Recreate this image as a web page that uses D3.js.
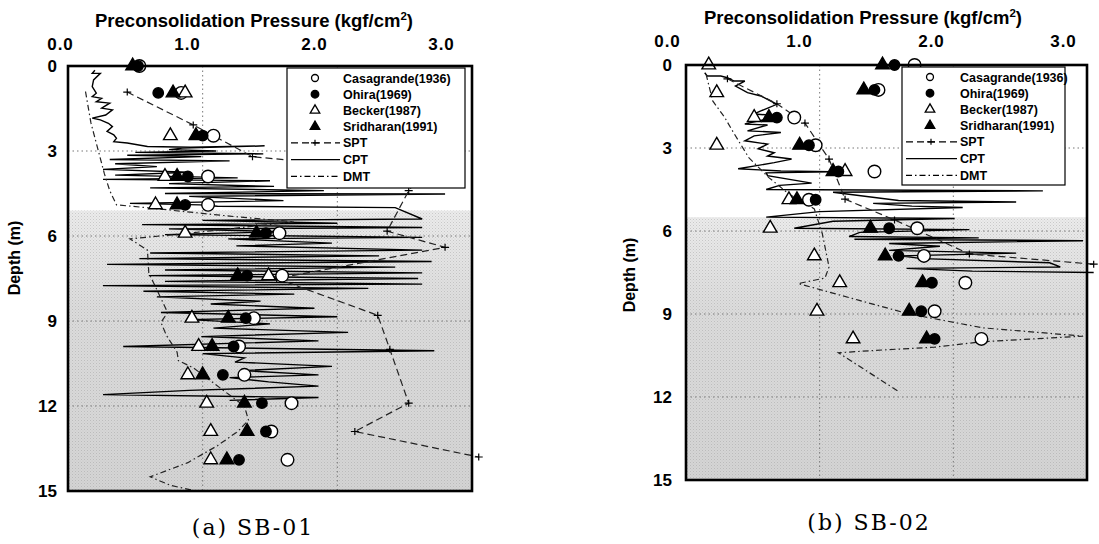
<!DOCTYPE html>
<html>
<head>
<meta charset="utf-8">
<script src="https://cdn.jsdelivr.net/npm/d3@7/dist/d3.min.js"></script>
<style>
  body { margin: 0; background: #fff; }
</style>
</head>
<body>
<svg id="chart" width="1099" height="544"></svg>
<script>
// ---- data: [depth (m), preconsolidation pressure (kgf/cm2)] ----
var xTicks = [0, 1, 2, 3];
var yTicks = [0, 3, 6, 9, 12, 15];
var methodNames = ["Casagrande(1936)", "Ohira(1969)", "Becker(1987)", "Sridharan(1991)"];
var lineNames = ["SPT", "CPT", "DMT"];

// SB-01
var sb01Casagrande = [[0,0.53],[0.95,0.84],[2.46,1.08],[3.9,1.04],[4.9,1.04],[5.9,1.57],[7.4,1.59],[8.9,1.38],[9.9,1.27],[10.9,1.31],[11.9,1.66],[12.9,1.51],[13.9,1.63]];
var sb01Ohira = [[0,0.52],[0.95,0.67],[2.46,1.0],[3.9,0.89],[4.9,0.87],[5.9,1.47],[7.4,1.33],[8.9,1.32],[9.9,1.23],[10.9,1.15],[11.9,1.44],[12.9,1.47],[13.9,1.27]];
var sb01Becker = [[0.95,0.87],[2.46,0.76],[3.9,0.72],[4.9,0.65],[5.9,0.87],[7.4,1.49],[8.9,0.92],[9.9,0.97],[10.9,0.89],[11.9,1.03],[12.9,1.06],[13.9,1.06]];
var sb01Sridharan = [[0,0.48],[0.95,0.78],[2.46,0.95],[3.9,0.81],[4.9,0.81],[5.9,1.40],[7.4,1.26],[8.9,1.19],[9.9,1.07],[10.9,1.0],[11.9,1.31],[12.9,1.33],[13.9,1.18]];
var sb01SPT = [[0.92,0.44],[2.08,0.93],[3.2,1.37],[3.35,1.7],[3.7,2.65],[4.4,2.53],[5.83,2.37],[6.4,2.8],[7.5,1.55],[8.8,2.3],[10.0,2.39],[11.9,2.53],[12.9,2.13],[13.8,3.05]];
var sb01DMT = [[0.9,0.13],[2.0,0.17],[2.9,0.22],[3.8,0.27],[4.4,0.31],[4.9,0.36],[4.99,0.56],[5.3,1.2],[5.5,1.68],[5.9,0.9],[6.1,0.46],[6.5,0.59],[7.3,0.6],[8.1,0.68],[8.7,0.74],[9.05,0.69],[9.5,0.73],[10.1,0.81],[10.4,0.82],[10.65,0.93],[11.65,1.21],[12.0,1.31],[12.5,1.34],[12.9,1.26],[13.4,1.11],[14.0,0.89],[14.5,0.61],[14.8,0.76],[15.0,0.95]];
var sb01CPT = [[0.15,0.2],[0.26,0.18],[0.26,0.24],[0.49,0.19],[0.73,0.18],[0.96,0.21],[1.08,0.18],[1.14,0.25],[1.26,0.21],[1.31,0.31],[1.49,0.25],[1.55,0.33],[1.73,0.28],[1.84,0.18],[1.9,0.24],[2.02,0.3],[2.14,0.33],[2.31,0.29],[2.43,0.34],[2.55,0.36],[2.67,0.34],[2.72,0.44],[2.84,0.59],[2.87,0.91],[2.82,1.46],[2.9,0.85],[2.95,0.75],[3.0,1.1],[3.05,0.5],[3.1,1.45],[3.15,0.44],[3.2,0.99],[3.3,0.31],[3.35,1.2],[3.45,0.35],[3.55,0.66],[3.65,0.26],[3.75,0.9],[3.85,0.35],[3.95,1.26],[4.0,0.26],[4.05,1.5],[4.15,0.75],[4.25,1.53],[4.3,0.61],[4.4,1.9],[4.5,0.72],[4.52,2.8],[4.6,0.9],[4.75,1.6],[4.85,0.46],[4.9,0.98],[4.95,1.11],[5.0,2.43],[5.4,2.63],[5.45,1.0],[5.55,2.0],[5.6,0.55],[5.7,2.63],[5.75,0.75],[5.85,1.6],[5.95,0.72],[6.05,2.63],[6.1,1.19],[6.25,1.96],[6.35,1.25],[6.5,2.63],[6.6,0.61],[6.7,2.31],[6.8,0.53],[6.9,2.7],[7.0,0.29],[7.1,2.43],[7.2,0.72],[7.3,2.63],[7.4,0.6],[7.5,2.6],[7.6,0.72],[7.7,2.63],[7.75,0.26],[7.85,2.23],[7.95,0.56],[8.05,1.68],[8.15,0.66],[8.3,1.43],[8.4,1.06],[8.55,1.83],[8.7,0.69],[8.85,2.0],[8.95,0.9],[9.1,1.5],[9.25,1.08],[9.4,2.08],[9.55,0.99],[9.7,1.86],[9.9,0.41],[10.05,2.72],[10.15,1.0],[10.3,1.31],[10.45,1.24],[10.6,1.96],[10.75,1.3],[10.9,1.86],[11.0,1.2],[11.15,1.49],[11.3,1.86],[11.45,0.9],[11.6,0.26],[11.7,1.86],[11.8,1.2]];

// SB-02
var sb02Casagrande = [[0,1.71],[0.9,1.44],[1.9,0.81],[2.9,0.97],[3.85,1.41],[4.87,0.92],[5.9,1.73],[6.9,1.78],[7.87,2.09],[8.9,1.86],[9.9,2.21]];
var sb02Ohira = [[0,1.56],[0.9,1.41],[1.9,0.68],[2.9,0.92],[3.85,1.14],[4.87,0.97],[5.9,1.52],[6.9,1.59],[7.87,1.84],[8.9,1.76],[9.9,1.86]];
var sb02Becker = [[0,0.17],[1.0,0.23],[1.9,0.51],[2.9,0.23],[3.85,1.19],[4.87,0.77],[5.9,0.63],[6.9,0.96],[7.87,1.15],[8.9,0.98],[9.9,1.25]];
var sb02Sridharan = [[0,1.47],[0.9,1.33],[1.9,0.62],[2.9,0.85],[3.85,1.1],[4.87,0.83],[5.9,1.38],[6.9,1.49],[7.87,1.77],[8.9,1.67],[9.9,1.80]];
var sb02SPT = [[0.5,0.31],[1.4,0.68],[2.1,0.89],[3.4,1.07],[4.85,1.19],[5.6,1.56],[6.83,2.12],[7.2,3.05]];
var sb02DMT = [[0.33,0.15],[1.3,0.2],[1.9,0.29],[2.4,0.35],[3.35,0.47],[4.07,0.62],[4.66,0.77],[5.2,0.96],[6.1,1.02],[7.3,1.07],[7.7,1.04],[7.9,0.84],[8.5,1.29],[9.0,1.67],[9.5,2.22],[9.8,2.97],[10.0,2.22],[10.2,1.86],[10.3,1.47],[10.4,1.14],[11.8,1.59]];
var sb02CPT = [[0.28,0.14],[0.4,0.16],[0.4,0.26],[0.46,0.31],[0.58,0.36],[0.58,0.44],[0.76,0.37],[1.0,0.46],[1.12,0.56],[1.42,0.68],[1.66,0.56],[1.77,0.51],[1.84,0.71],[2.13,0.44],[2.17,0.61],[2.38,0.46],[2.44,0.71],[2.56,0.51],[2.74,0.44],[2.86,0.61],[3.03,0.54],[3.17,0.66],[3.29,0.61],[3.4,0.79],[3.53,0.66],[3.75,0.39],[3.83,0.71],[3.86,1.09],[3.9,0.6],[4.0,0.61],[4.27,0.94],[4.35,0.7],[4.5,0.6],[4.55,2.67],[4.6,1.1],[4.9,1.59],[4.95,2.47],[5.0,1.4],[5.1,1.69],[5.15,2.07],[5.3,1.0],[5.5,0.6],[5.55,2.01],[5.65,1.1],[5.9,0.81],[5.95,2.12],[6.05,1.3],[6.2,1.22],[6.25,2.19],[6.3,1.26],[6.35,2.97],[6.45,1.52],[6.55,1.9],[6.7,1.52],[6.8,2.47],[6.9,1.6],[7.0,1.77],[7.15,2.72],[7.3,2.8],[7.35,1.65],[7.45,2.14],[7.5,3.05]];

var sansFont = "'Liberation Sans', Arial, sans-serif";
var serifFont = "'DejaVu Serif', 'Liberation Serif', serif";

var svg = d3.select("#chart").style("font-family", sansFont);
var defs = svg.append("defs");

// fine stipple like the scanned original
var dots = defs.append("pattern")
  .attr("id", "stipple").attr("patternUnits", "userSpaceOnUse")
  .attr("width", 3).attr("height", 3);
dots.append("rect").attr("x", 0).attr("y", 0).attr("width", 1).attr("height", 1).attr("fill", "#8a8a8a");
dots.append("rect").attr("x", 1.5).attr("y", 1.5).attr("width", 1).attr("height", 1).attr("fill", "#a5a5a5");

var panels = [
  {id: "a", caption: "(a) SB-01", xr: [68, 472], yr: [66, 491], labelXr: [60, 441], tickY: 50,
   titleX: 254, titleY: 27, depthX: 20, depthY: 258, yLabX: 57, capX: 253, capY: 535, grayFrom: 5.1,
   legend: {x: 287, y: 68, w: 178, h: 120, symX: 315, textX: 343},
   casa: sb01Casagrande, ohira: sb01Ohira, becker: sb01Becker, srid: sb01Sridharan,
   spt: sb01SPT, cpt: sb01CPT, dmt: sb01DMT},
  {id: "b", caption: "(b) SB-02", xr: [686, 1087], yr: [65, 480], labelXr: [667, 1063], tickY: 47,
   titleX: 863, titleY: 24, depthX: 635, depthY: 275, yLabX: 672, capX: 869, capY: 530, grayFrom: 5.5,
   legend: {x: 902, y: 67, w: 163, h: 118, symX: 930, textX: 960},
   casa: sb02Casagrande, ohira: sb02Ohira, becker: sb02Becker, srid: sb02Sridharan,
   spt: sb02SPT, cpt: sb02CPT, dmt: sb02DMT}
];

var dashSPT = "7,4";
var dashDMT = "6,3,1.5,3";

panels.forEach(drawPanel);

function drawPanel(p) {
  var x = d3.scaleLinear().domain([0, 3]).range(p.xr);
  var y = d3.scaleLinear().domain([0, 15]).range(p.yr);
  var xl = d3.scaleLinear().domain([0, 3]).range(p.labelXr);
  var g = svg.append("g");

  // stippled background
  var grad = defs.append("linearGradient")
    .attr("id", "gray" + p.id)
    .attr("gradientUnits", "userSpaceOnUse")
    .attr("x1", 0).attr("x2", 0)
    .attr("y1", y(p.grayFrom)).attr("y2", y(15));
  grad.append("stop").attr("offset", 0).attr("stop-color", "#ececec");
  grad.append("stop").attr("offset", 0.35).attr("stop-color", "#dcdcdc");
  grad.append("stop").attr("offset", 1).attr("stop-color", "#d4d4d4");
  g.append("rect")
    .attr("x", x(0)).attr("y", y(p.grayFrom))
    .attr("width", x(3) - x(0)).attr("height", y(15) - y(p.grayFrom))
    .attr("fill", "url(#gray" + p.id + ")");
  g.append("rect")
    .attr("x", x(0)).attr("y", y(p.grayFrom))
    .attr("width", x(3) - x(0)).attr("height", y(15) - y(p.grayFrom))
    .attr("fill", "url(#stipple)").attr("opacity", 0.35);

  // dotted grid
  g.selectAll(".vgrid").data([1, 2]).enter().append("line")
    .attr("x1", d => x(d)).attr("x2", d => x(d))
    .attr("y1", y(0)).attr("y2", y(15))
    .attr("stroke", "#777").attr("stroke-width", 1).attr("stroke-dasharray", "1.5,3");
  g.selectAll(".hgrid").data([3, 6, 9, 12]).enter().append("line")
    .attr("x1", x(0)).attr("x2", x(3))
    .attr("y1", d => y(d)).attr("y2", d => y(d))
    .attr("stroke", "#777").attr("stroke-width", 1).attr("stroke-dasharray", "1.5,3");

  var line = d3.line().x(d => x(d[1])).y(d => y(d[0]));

  // CPT
  g.append("path").datum(p.cpt)
    .attr("fill", "none").attr("stroke", "#000")
    .attr("stroke-width", 1.4)
    .attr("d", line);

  // DMT
  g.append("path").datum(p.dmt)
    .attr("fill", "none").attr("stroke", "#222")
    .attr("stroke-width", 1.2).attr("stroke-dasharray", dashDMT)
    .attr("d", line);

  // SPT
  g.append("path").datum(p.spt)
    .attr("fill", "none").attr("stroke", "#222")
    .attr("stroke-width", 1.2).attr("stroke-dasharray", dashSPT)
    .attr("d", line);
  g.selectAll(".sptPlus").data(p.spt).enter().append("path")
    .attr("transform", d => "translate(" + x(d[1]) + "," + y(d[0]) + ")")
    .attr("d", "M-4,0H4M0,-3.5V3.5")
    .attr("stroke", "#000").attr("stroke-width", 1.2);

  // markers
  var sym = d3.symbol();
  function markers(data, type, size, fill) {
    g.selectAll(null).data(data).enter().append("path")
      .attr("transform", d => "translate(" + x(d[1]) + "," + y(d[0]) + ")")
      .attr("d", sym.type(type).size(size)())
      .attr("fill", fill).attr("stroke", "#000").attr("stroke-width", 1.4);
  }
  markers(p.casa, d3.symbolCircle, 125, "#fff");
  markers(p.becker, d3.symbolTriangle, 80, "#fff");
  markers(p.ohira, d3.symbolCircle, 85, "#000");
  markers(p.srid, d3.symbolTriangle, 80, "#000");

  // frame
  g.append("rect")
    .attr("x", x(0)).attr("y", y(0))
    .attr("width", x(3) - x(0)).attr("height", y(15) - y(0))
    .attr("fill", "none").attr("stroke", "#000").attr("stroke-width", 2.6);

  // legend
  var L = p.legend;
  var lg = g.append("g");
  lg.append("rect")
    .attr("x", L.x).attr("y", L.y).attr("width", L.w).attr("height", L.h)
    .attr("fill", "#fff").attr("stroke", "#000").attr("stroke-width", 1.2);
  var rowY = i => L.y + 10 + i * 16.2;
  var legendSym = [
    {type: d3.symbolCircle, size: 38, fill: "#fff"},
    {type: d3.symbolCircle, size: 45, fill: "#000"},
    {type: d3.symbolTriangle, size: 40, fill: "#fff"},
    {type: d3.symbolTriangle, size: 40, fill: "#000"}
  ];
  methodNames.forEach(function (name, i) {
    lg.append("path")
      .attr("transform", "translate(" + L.symX + "," + rowY(i) + ")")
      .attr("d", sym.type(legendSym[i].type).size(legendSym[i].size)())
      .attr("fill", legendSym[i].fill).attr("stroke", "#000").attr("stroke-width", 1.3);
    lg.append("text").attr("x", L.textX).attr("y", rowY(i) + 4.5)
      .attr("font-size", 12.5).attr("font-weight", "bold").text(name);
  });
  var lineDash = [dashSPT, null, dashDMT];
  lineNames.forEach(function (name, j) {
    var yy = rowY(4 + j) + j * 0.6;
    lg.append("line")
      .attr("x1", L.x + 4).attr("x2", L.textX - 3)
      .attr("y1", yy).attr("y2", yy)
      .attr("stroke", "#000").attr("stroke-width", 1.2)
      .attr("stroke-dasharray", lineDash[j]);
    if (j === 0) {
      lg.append("path")
        .attr("transform", "translate(" + ((L.x + L.textX) / 2) + "," + yy + ")")
        .attr("d", "M-4,0H4M0,-3V3").attr("stroke", "#000").attr("stroke-width", 1.2);
    }
    lg.append("text").attr("x", L.textX).attr("y", yy + 4.5)
      .attr("font-size", 12.5).attr("font-weight", "bold").text(name);
  });

  // top tick labels
  g.append("g")
    .attr("transform", "translate(0," + p.tickY + ")")
    .call(d3.axisTop(xl).tickValues(xTicks).tickFormat(d3.format(".1f")).tickSize(0).tickPadding(0))
    .call(a => a.select(".domain").remove())
    .call(a => a.selectAll("text")
      .style("font-family", sansFont)
      .attr("font-size", 17).attr("font-weight", "bold").attr("fill", "#000")
      .attr("letter-spacing", 1));

  // left tick labels
  g.append("g")
    .attr("transform", "translate(" + p.yLabX + ",0)")
    .call(d3.axisLeft(y).tickValues(yTicks).tickFormat(d3.format("d")).tickSize(0).tickPadding(0))
    .call(a => a.select(".domain").remove())
    .call(a => a.selectAll("text")
      .style("font-family", sansFont)
      .attr("font-size", 17).attr("font-weight", "bold").attr("fill", "#000"));

  // titles
  var t = g.append("text").attr("x", p.titleX).attr("y", p.titleY)
    .attr("text-anchor", "middle").attr("font-size", 18.5).attr("font-weight", "bold");
  t.append("tspan").text("Preconsolidation Pressure (kgf/cm");
  t.append("tspan").attr("dy", -7).attr("font-size", 11.5).text("2");
  t.append("tspan").attr("dy", 7).text(")");

  g.append("text")
    .attr("transform", "translate(" + p.depthX + "," + p.depthY + ") rotate(-90)")
    .attr("text-anchor", "middle").attr("font-size", 16).attr("font-weight", "bold")
    .text("Depth (m)");

  g.append("text").attr("x", p.capX).attr("y", p.capY)
    .attr("text-anchor", "middle")
    .style("font-family", serifFont)
    .attr("font-size", 22).attr("letter-spacing", 2).text(p.caption);
}
</script>
</body>
</html>
